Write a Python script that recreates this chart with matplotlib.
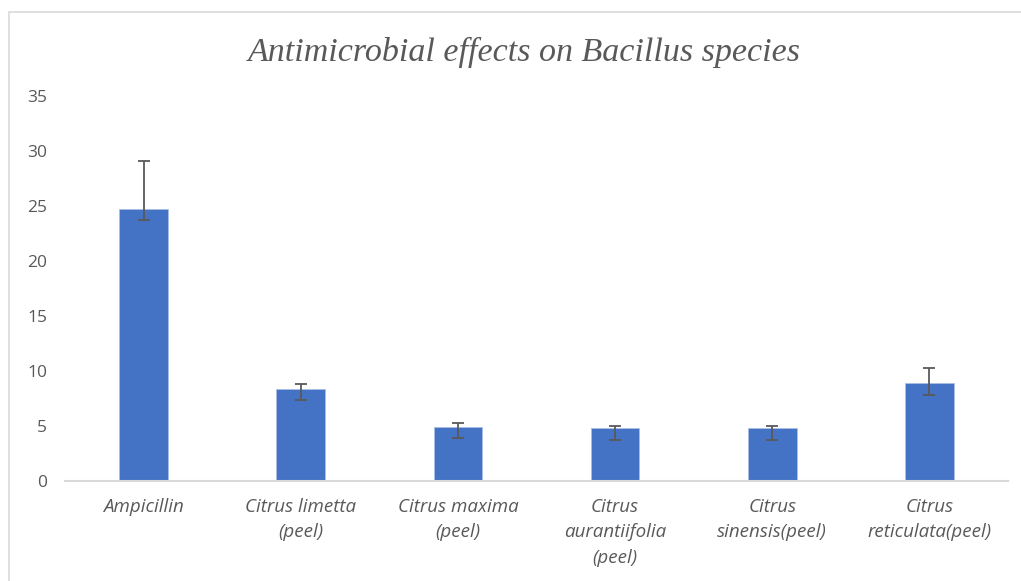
import matplotlib.pyplot as plt
from matplotlib.patches import Rectangle
import numpy as np

labels = ["Ampicillin", "Citrus limetta\n(peel)", "Citrus maxima\n(peel)",
          "Citrus\naurantiifolia\n(peel)", "Citrus\nsinensis(peel)",
          "Citrus\nreticulata(peel)"]
values = [24.7, 8.35, 4.95, 4.8, 4.8, 8.9]
err_low = [1.0, 1.0, 1.05, 1.05, 1.05, 1.05]
err_high = [4.35, 0.45, 0.35, 0.2, 0.2, 1.4]

fig = plt.figure(figsize=(10.21, 5.81), dpi=100)
ax = fig.add_axes([65 / 1021, 100 / 581, 943 / 1021, 385 / 581])

# chart frame
fig.patches.append(Rectangle((9 / 1021, -0.1), 1.2, (581 - 12) / 581 + 0.1,
                             transform=fig.transFigure, fill=False,
                             edgecolor="#d9d9d9", lw=1.2))

x = np.arange(len(labels))
ax.bar(x, values, width=0.31, color="#4472C4", edgecolor="#a9bfe6", lw=0.6,
       yerr=[err_low, err_high], ecolor="#595959",
       error_kw=dict(capsize=4, elinewidth=1.3, capthick=1.3))

ax.set_xlim(-0.5, 5.5)
ax.set_ylim(0, 35)
ax.set_yticks(range(0, 36, 5))
ax.set_xticks(x)
ax.set_xticklabels(labels, fontsize=13.5, style="italic", color="#595959",
                   family="Open Sans", linespacing=1.55)
for t in ax.get_yticklabels():
    t.set_fontsize(12.5)
    t.set_color("#595959")
    t.set_family("Open Sans")
ax.tick_params(axis="both", length=0)
ax.tick_params(axis="y", pad=13)
ax.tick_params(axis="x", pad=12)
for s in ["top", "right", "left"]:
    ax.spines[s].set_visible(False)
ax.spines["bottom"].set_color("#d9d9d9")
ax.spines["bottom"].set_linewidth(1.5)

fig.text(0.514, 0.91, "Antimicrobial effects on Bacillus species",
         ha="center", va="center", fontsize=24.5, style="italic",
         family="Liberation Serif", color="#595959")

fig.savefig("out.png", dpi=100)
